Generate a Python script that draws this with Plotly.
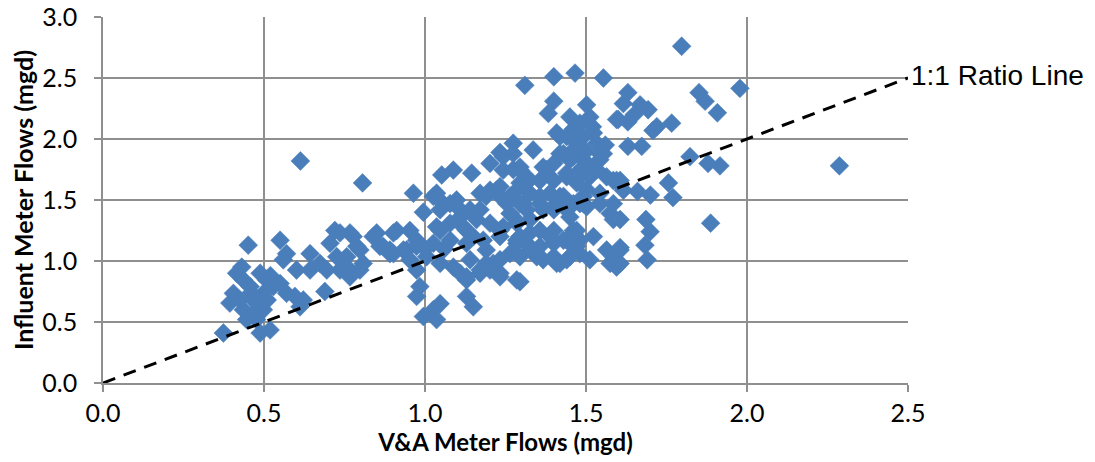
import plotly.graph_objects as go

# V&A meter flows (mgd) vs influent meter flows (mgd)
pts = [
    # low cluster
    (0.374,0.41),(0.451,1.13),(0.431,0.95),(0.415,0.90),(0.436,0.845),(0.488,0.90),
    (0.508,0.845),(0.457,0.79),(0.405,0.735),(0.394,0.655),(0.425,0.68),(0.467,0.68),
    (0.498,0.735),(0.529,0.79),(0.550,0.815),(0.570,0.735),(0.436,0.60),(0.467,0.57),
    (0.498,0.60),(0.446,0.52),(0.488,0.41),(0.519,0.435),(0.477,0.52),(0.550,1.17),
    (0.570,1.06),(0.560,1.01),(0.596,0.71),(0.612,0.625),(0.622,0.68),(0.601,0.926),
    (0.643,1.06),(0.643,0.926),(0.674,0.98),(0.695,0.926),(0.689,0.75),(0.720,1.25),
    (0.705,1.145),(0.726,1.035),(0.746,0.95),(0.767,1.23),(0.788,1.12),(0.767,0.926),
    (0.808,0.98),(0.850,1.23),(0.870,1.12),(0.902,1.23),(0.891,1.06),(0.613,1.82),
    (0.736,0.926),(0.798,0.926),(0.767,0.87),(0.757,1.035),(0.798,1.09),(0.860,1.12),
    (0.902,1.06),(0.943,1.09),(0.806,1.64),(0.736,1.23),(0.777,1.20),(0.839,1.20),
    (0.480,0.65),(0.510,0.68),(0.460,0.74),(0.520,0.88),
    # middle
    (0.964,1.555),(0.995,1.40),(1.052,1.705),(1.088,1.745),(1.145,1.72),(1.202,1.80),
    (1.243,1.855),(1.274,1.88),(1.026,1.53),(1.047,1.42),(1.078,1.47),(1.109,1.42),
    (1.036,1.555),(1.057,1.47),(1.098,1.50),(1.140,1.42),(1.171,1.555),(1.202,1.58),
    (1.233,1.61),(1.264,1.53),(1.295,1.64),(1.305,1.47),(0.912,1.25),(0.953,1.25),
    (1.036,1.28),(1.078,1.31),(1.119,1.28),(1.160,1.34),(1.202,1.31),(1.243,1.28),
    (1.285,1.31),(0.891,1.09),(0.933,1.09),(0.974,1.12),(1.026,1.145),(1.078,1.17),
    (1.129,1.145),(1.181,1.17),(1.233,1.20),(1.285,1.145),(0.953,1.01),(1.005,1.035),
    (1.047,0.98),(1.088,0.95),(1.140,1.01),(1.190,0.98),(1.233,1.01),(0.974,0.926),
    (1.109,0.90),(1.129,0.845),(1.171,0.90),(1.202,0.926),(1.233,0.87),(1.285,0.845),
    (0.984,0.79),(0.974,0.71),(0.995,0.545),(1.026,0.60),(1.047,0.65),(1.036,0.52),
    (1.129,0.71),(1.150,0.625),(0.974,1.17),(1.171,1.42),(1.190,1.53),(1.222,1.58),
    (1.254,1.47),(1.274,1.36),(1.316,1.42),(1.357,1.47),(1.400,1.42),(1.440,1.42),
    (1.481,1.47),(1.047,1.25),(1.129,1.25),(1.212,0.98),(1.233,0.90),(1.190,1.09),
    (1.171,0.926),(1.129,0.87),(1.000,1.10),(1.060,1.10),(1.110,1.36),(1.150,1.20),
    # upper dense
    (1.310,2.44),(1.400,2.51),(1.466,2.54),(1.554,2.50),(1.400,2.31),(1.383,2.21),
    (1.502,2.28),(1.616,2.29),(1.450,2.18),(1.481,2.13),(1.512,2.18),(1.523,2.05),
    (1.595,2.16),(1.409,2.05),(1.440,2.02),(1.471,1.965),(1.492,2.02),(1.533,1.965),
    (1.554,1.88),(1.274,1.965),(1.336,1.91),(1.430,1.88),(1.450,1.83),(1.492,1.83),
    (1.523,1.77),(1.543,1.83),(1.295,1.745),(1.367,1.77),(1.400,1.66),(1.440,1.72),
    (1.471,1.64),(1.512,1.69),(1.564,1.69),(1.595,1.66),(1.285,1.58),(1.326,1.555),
    (1.388,1.555),(1.430,1.53),(1.492,1.53),(1.543,1.555),(1.585,1.47),(1.616,1.58),
    (1.419,2.02),(1.461,1.91),(1.481,1.745),(1.502,1.585),(1.316,1.64),(1.357,1.66),
    (1.400,1.80),(1.243,1.745),(1.295,1.77),(1.233,1.89),(1.419,1.88),(1.461,1.855),
    (1.502,1.80),(1.543,1.88),(1.274,1.75),(1.316,1.69),(1.378,1.75),(1.440,1.69),
    (1.490,1.72),(1.533,1.75),(1.585,1.66),(1.233,1.53),(1.295,1.47),(1.357,1.53),
    (1.419,1.53),(1.461,1.47),(1.502,1.445),(1.543,1.47),(1.575,1.39),(1.585,1.34),
    (1.520,2.10),(1.460,2.08),(1.560,1.95),(1.500,1.90),
    # lower right of dense
    (1.233,1.25),(1.295,1.20),(1.357,1.25),(1.400,1.145),(1.440,1.17),(1.481,1.17),
    (1.523,1.20),(1.564,1.09),(1.585,1.01),(1.512,1.01),(1.295,1.035),(1.347,1.035),
    (1.419,0.98),(1.461,1.12),(1.295,0.83),(1.316,1.145),(1.357,1.12),(1.400,1.035),
    (1.440,1.01),(1.481,1.06),(1.400,1.25),(1.461,1.25),(1.575,0.98),(1.595,0.95),
    (1.606,1.09),(1.326,1.09),(1.367,1.01),(1.409,0.98),(1.450,1.035),(1.471,1.12),
    (1.430,1.17),(1.388,1.20),(1.326,1.23),(1.285,1.17),(1.264,1.06),(1.264,1.39),
    (1.326,1.34),(1.367,1.42),(1.409,1.47),(1.492,1.47),(1.450,1.36),(1.471,1.25),
    # far right
    (1.797,2.76),(1.978,2.415),(1.851,2.38),(1.870,2.31),(1.908,2.215),(1.766,2.13),
    (1.630,2.38),(1.693,2.24),(1.668,2.28),(1.630,2.14),(1.708,2.07),(1.630,1.94),
    (1.673,1.94),(1.823,1.855),(1.879,1.80),(1.916,1.78),(2.287,1.78),(1.756,1.64),
    (1.770,1.52),(1.660,1.57),(1.700,1.54),(1.606,1.66),(1.887,1.31),(1.686,1.34),
    (1.699,1.24),(1.683,1.13),(1.690,1.01),(1.606,0.98),(1.606,1.11),(1.606,1.34),
    (1.600,2.16),(1.720,2.10),(1.650,2.20),
]
va_flows = [p[0] for p in pts]
influent_flows = [p[1] for p in pts]

ratio_x = [0.0, 2.5]
ratio_y = [0.0, 2.5]

x_ticks = [0.0, 0.5, 1.0, 1.5, 2.0, 2.5]
y_ticks = [0.0, 0.5, 1.0, 1.5, 2.0, 2.5, 3.0]

grid = "#8f8f8f"
fig = go.Figure()
fig.add_trace(go.Scatter(
    x=va_flows, y=influent_flows, mode="markers",
    marker=dict(symbol="diamond", size=14.5, color="#4a7ebb",
                line=dict(color="#4a7ebb", width=0.5)),
    showlegend=False, cliponaxis=False))
fig.add_trace(go.Scatter(
    x=ratio_x, y=ratio_y, mode="lines",
    line=dict(color="black", width=3, dash="13px,9px"),
    showlegend=False))

fig.add_annotation(x=1, xref="paper", y=2.52, yref="y", xanchor="left",
                   yanchor="middle", xshift=1, showarrow=False,
                   text="1:1 Ratio Line",
                   font=dict(family="Liberation Sans", size=28, color="black"))

fig.update_layout(
    width=1087, height=454,
    margin=dict(l=95, r=187, t=9, b=79),
    plot_bgcolor="white", paper_bgcolor="white",
    font=dict(family="Lato", size=25, color="black"),
    xaxis=dict(range=[0, 2.5], tickvals=x_ticks, ticktext=[f"{v:.1f}" for v in x_ticks],
               showgrid=True, gridcolor=grid, gridwidth=1.5,
               showline=True, linecolor=grid, linewidth=1.5,
               ticks="outside", ticklen=7, tickcolor=grid, tickwidth=1.5,
               zeroline=False, automargin=False, ticklabelstandoff=0,
               ticklabeloverflow="allow",
               tickfont=dict(size=25),
               title=dict(text="<b>V&A Meter Flows (mgd)</b>", font=dict(size=24), standoff=4)),
    yaxis=dict(range=[0, 3.0], tickvals=y_ticks, ticktext=[f"{v:.1f}" for v in y_ticks],
               showgrid=True, gridcolor=grid, gridwidth=1.5,
               showline=True, linecolor=grid, linewidth=1.5,
               ticks="outside", ticklen=7, tickcolor=grid, tickwidth=1.5,
               zeroline=False, automargin=False, ticklabelstandoff=12,
               ticklabeloverflow="allow",
               tickfont=dict(size=25),
               title=dict(text="<b>Influent Meter Flows (mgd)</b>", font=dict(size=25), standoff=3)),
)
fig.write_html("out.html")
